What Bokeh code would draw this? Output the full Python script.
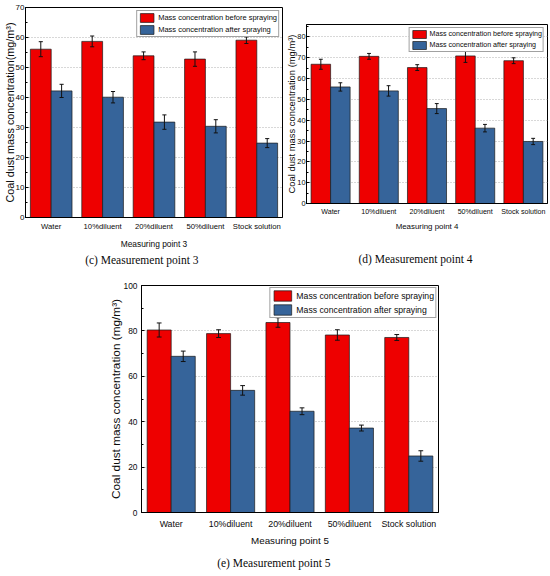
from bokeh.plotting import figure
from bokeh.models import (ColumnDataSource, FactorRange, Legend, LegendItem, Title,
                          SingleIntervalTicker, Range1d, Spacer)
from bokeh.transform import dodge
from bokeh.layouts import row, column
from bokeh.embed import file_html
from bokeh.resources import INLINE

categories = ["Water", "10%diluent", "20%diluent", "50%diluent", "Stock solution"]
series_labels = ["Mass concentration before spraying", "Mass concentration after spraying"]

p3_before = [56.1, 58.7, 53.9, 52.8, 59.1]
p3_before_err = [2.5, 1.8, 1.3, 2.4, 1.1]
p3_after = [42.2, 40.1, 31.8, 30.4, 24.8]
p3_after_err = [2.2, 1.9, 2.4, 2.2, 1.5]

p4_before = [66.9, 70.7, 65.3, 70.9, 68.6]
p4_before_err = [2.4, 1.4, 1.4, 3.1, 1.4]
p4_after = [56.0, 54.1, 45.6, 36.2, 29.8]
p4_after_err = [2.0, 2.5, 2.4, 1.8, 1.5]

p5_before = [80.4, 78.8, 83.7, 78.2, 77.1]
p5_before_err = [3.1, 1.7, 2.1, 2.3, 1.3]
p5_after = [68.8, 53.8, 44.6, 37.2, 24.9]
p5_after_err = [2.3, 2.1, 1.5, 1.3, 2.3]

RED = "#EE0000"
BLUE = "#36649A"
SANS = "Liberation Sans"
SERIF = "Liberation Serif"
INK = "#0a0a0a"


def panel(before, berr, after, aerr, ymax, ystep, ylabel, xlabel, caption, c):
    src = ColumnDataSource(dict(
        x=categories, b=before, a=after,
        b_lo=[v - e for v, e in zip(before, berr)], b_hi=[v + e for v, e in zip(before, berr)],
        a_lo=[v - e for v, e in zip(after, aerr)], a_hi=[v + e for v, e in zip(after, aerr)],
    ))
    p = figure(title=None,
               x_range=FactorRange(*categories, factor_padding=0, range_padding=0),
               y_range=Range1d(0, ymax), width=c["w"], height=c["h"],
               output_backend="svg", toolbar_location=None,
               min_border_left=c["bl"], min_border_right=c["br"],
               min_border_top=c["bt"], min_border_bottom=c["bb"])
    off = 0.2025
    bw = 0.405
    rb = p.vbar(x=dodge("x", -off, range=p.x_range), top="b", width=bw, source=src,
                fill_color=RED, line_color="#1a1a1a", line_width=0.7)
    ab = p.vbar(x=dodge("x", off, range=p.x_range), top="a", width=bw, source=src,
                fill_color=BLUE, line_color="#1a1a1a", line_width=0.7)
    cap = 0.04
    for o, lo, hi in [(-off, "b_lo", "b_hi"), (off, "a_lo", "a_hi")]:
        p.segment(x0=dodge("x", o, range=p.x_range), y0=lo,
                  x1=dodge("x", o, range=p.x_range), y1=hi,
                  source=src, line_color="#111111", line_width=1)
        for yy in (lo, hi):
            p.segment(x0=dodge("x", o - cap, range=p.x_range), y0=yy,
                      x1=dodge("x", o + cap, range=p.x_range), y1=yy,
                      source=src, line_color="#111111", line_width=1)

    p.yaxis.ticker = SingleIntervalTicker(interval=ystep, num_minor_ticks=2)
    for ax in (p.xaxis[0], p.yaxis[0]):
        ax.axis_line_color = "black"
        ax.axis_line_width = 1
        ax.major_label_text_font = SANS
        ax.axis_label_text_font = SANS
        ax.axis_label_text_font_style = "normal"
        ax.major_label_text_color = INK
        ax.axis_label_text_color = INK
    p.yaxis.major_tick_in = 3
    p.yaxis.major_tick_out = 0
    p.yaxis.minor_tick_in = 2
    p.yaxis.minor_tick_out = 0
    p.yaxis.major_tick_line_color = "black"
    p.yaxis.minor_tick_line_color = "black"
    p.xaxis.major_tick_in = 0
    p.xaxis.major_tick_out = 0
    p.xaxis.minor_tick_in = 0
    p.xaxis.minor_tick_out = 0
    p.xaxis.major_tick_line_color = None
    p.xaxis.minor_tick_line_color = None
    p.yaxis.major_label_text_font_size = c["yt"]
    p.xaxis.major_label_text_font_size = c["xt"]
    p.yaxis.axis_label = ylabel
    p.xaxis.axis_label = xlabel
    p.yaxis.axis_label_text_font_size = c["yl"]
    p.xaxis.axis_label_text_font_size = c["xl"]
    p.yaxis.major_label_standoff = c["ys"]
    p.xaxis.major_label_standoff = c["xs"]
    p.yaxis.axis_label_standoff = c["yls"]
    p.xaxis.axis_label_standoff = c["xls"]

    p.xgrid.grid_line_color = None
    p.ygrid.grid_line_color = "#b0b0b0"
    p.ygrid.grid_line_dash = "1 2"
    p.ygrid.grid_line_width = 1
    p.outline_line_color = "black"
    p.outline_line_width = 1
    p.outline_line_alpha = 1
    p.background_fill_color = "white"
    p.border_fill_color = "white"

    legend = Legend(items=[LegendItem(label=series_labels[0], renderers=[rb]),
                           LegendItem(label=series_labels[1], renderers=[ab])],
                    location="top_right", margin=c["lm"], padding=1, spacing=1,
                    glyph_width=c["gw"], glyph_height=c["gh"], label_height=c["gh"],
                    label_standoff=c["lst"], label_text_font=SANS,
                    label_text_font_size=c["lf"], label_text_color=INK,
                    border_line_color="#444444", border_line_width=1,
                    background_fill_color="white", background_fill_alpha=1)
    p.add_layout(legend)

    if c.get("gap"):
        # empty panel that only adds vertical room between the axis and the caption
        p.add_layout(Title(text=" ", text_font=SANS, text_font_size=c["gap"], standoff=0), "below")
    t = Title(text=caption, align="right", text_font=SERIF, text_font_size=c["cf"],
              text_font_style="normal", text_color=INK, offset=c["co"], standoff=c["cs"])
    p.add_layout(t, "below")
    return p


pc = panel(p3_before, p3_before_err, p3_after, p3_after_err, 70, 10,
           "Coal dust mass concentration(mg/m³)", "Measuring point 3", "(c) Measurement point 3",
           dict(w=283, h=280, bl=25, br=1, bt=7, bb=63, yt="8px", xt="7.7px", yl="10.8px",
                xl="8.4px", ys=1, xs=4, yls=-3, xls=5, lm=3, gw=17, gh=11, lst=3, lf="7.5px",
                cf="11.5px", co=84, cs=0))

pd_ = panel(p4_before, p4_before_err, p4_after, p4_after_err, 86, 10,
            "Coal dust mass concentration (mg/m³)", "Measuring point 4", "(d) Measurement point 4",
            dict(w=267, h=264, bl=21, br=3, bt=8, bb=77, yt="7.4px", xt="7.1px", yl="9.4px",
                 xl="7.9px", ys=1, xs=4, yls=-3, xls=3, lm=3, gw=17, gh=10, lst=2, lf="7.1px",
                 cf="11.5px", co=75, cs=0, gap="13.8px"))

pe = panel(p5_before, p5_before_err, p5_after, p5_after_err, 100, 20,
           "Coal dust mass concentration (mg/m³)", "Measuring point 5", "(e) Measurement point 5",
           dict(w=341, h=296, bl=41, br=3, bt=5, bb=64, yt="8.4px", xt="8.8px", yl="11.8px",
                xl="9.8px", ys=4, xs=6, yls=-2, xls=3, lm=2, gw=22, gh=13, lst=3, lf="8.7px",
                cf="11.5px", co=108, cs=12))

layout = column(
    row(pc, column(Spacer(width=267, height=16), pd_)),
    row(Spacer(width=100, height=296), pe),
)

open("out.html", "w").write(file_html(layout, INLINE))
